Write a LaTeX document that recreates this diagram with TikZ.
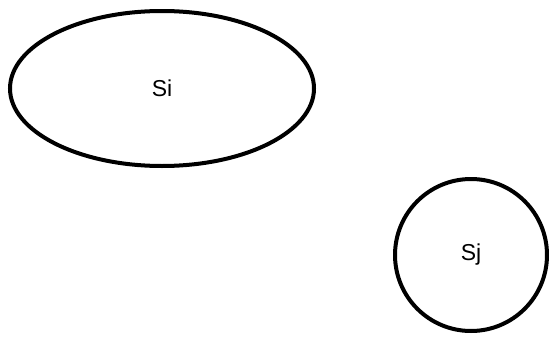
\documentclass[tikz,border=0pt]{standalone}
\usepackage{fontspec}
\setmainfont{Liberation Sans}
\usepackage{tikz}
\usetikzlibrary{shapes.geometric}
\tikzset{
  state/.style={ellipse,draw,line width=4pt,inner sep=0pt,font=\fontsize{23}{27}\selectfont},
  statecirc/.style={circle,draw,line width=4pt,inner sep=0pt,font=\fontsize{23}{27}\selectfont}
}

\begin{document}
\begin{tikzpicture}[x=1pt,y=-1pt]
 \useasboundingbox (0,0) rectangle (549,340);
 \node[state,minimum width=304pt,minimum height=155pt] (si) at (162,88.5) {Si};
 \node[statecirc,minimum size=152pt] (sj) at (471,255) {Sj};
\end{tikzpicture}
\end{document}
